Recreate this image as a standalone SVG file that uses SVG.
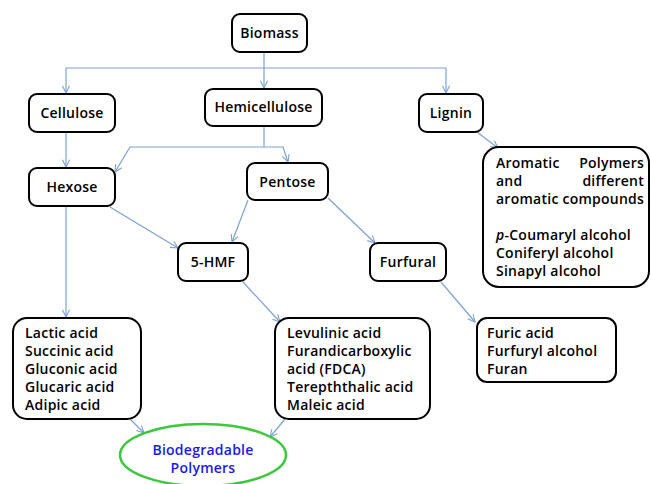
<svg xmlns="http://www.w3.org/2000/svg" width="651" height="484" viewBox="0 0 651 484">
<defs>
<marker id="arr" viewBox="0 0 10 10" refX="9" refY="5" markerWidth="9" markerHeight="9" markerUnits="userSpaceOnUse" orient="auto">
<path d="M1,1 L9,5 L1,9" fill="none" stroke="#7ba2d4" stroke-width="1.2"/>
</marker>
<style>
.box{fill:#fff;stroke:#000;stroke-width:2}
.t{font-family:"Open Sans","DejaVu Sans",sans-serif;font-weight:600;font-size:14px;letter-spacing:0.25px;fill:#000}
.c{text-anchor:middle}
.e{text-anchor:end}
.ln{fill:none;stroke:#7ba2d4;stroke-width:1.2}
.la{fill:none;stroke:#7ba2d4;stroke-width:1.2;marker-end:url(#arr)}
</style>
</defs>
<rect width="651" height="484" fill="#fff"/>
<g id="connectors">
<line class="ln" x1="264" y1="52" x2="264" y2="68"/>
<polyline class="la" points="264,68 66,68 66,93"/>
<line class="la" x1="264" y1="68" x2="264" y2="88"/>
<polyline class="la" points="264,68 446,68 446,93"/>
<line class="ln" x1="264" y1="126" x2="264" y2="147"/>
<polyline class="la" points="264,147 130,147 115,172"/>
<polyline class="la" points="264,147 283,147 288,162"/>
<line class="la" x1="66" y1="132" x2="66" y2="167"/>
<line class="la" x1="66" y1="206" x2="66" y2="317"/>
<line class="la" x1="110" y1="207" x2="178" y2="248"/>
<line class="la" x1="248" y1="200" x2="232" y2="242"/>
<line class="la" x1="328" y1="198" x2="375" y2="243"/>
<line class="la" x1="477" y1="132" x2="498" y2="148"/>
<line class="la" x1="243" y1="282" x2="280" y2="322"/>
<line class="la" x1="441" y1="282" x2="475" y2="322"/>
<line class="la" x1="130" y1="419" x2="144" y2="433"/>
<line class="la" x1="285" y1="419" x2="270" y2="437"/>
</g>
<g id="biomass"><rect class="box" x="232" y="14" width="75" height="38" rx="8"/><text class="t c" x="269.5" y="38">Biomass</text></g>
<g id="cellulose"><rect class="box" x="29" y="94" width="86" height="38" rx="8"/><text class="t c" x="72" y="118">Cellulose</text></g>
<g id="hemicellulose"><rect class="box" x="205" y="89" width="117" height="37" rx="8"/><text class="t c" x="263.5" y="112">Hemicellulose</text></g>
<g id="lignin"><rect class="box" x="419" y="94" width="64" height="38" rx="8"/><text class="t c" x="451" y="118">Lignin</text></g>
<g id="hexose"><rect class="box" x="29" y="168" width="86" height="38" rx="8"/><text class="t c" x="72" y="192">Hexose</text></g>
<g id="pentose"><rect class="box" x="247" y="163" width="81" height="37" rx="8"/><text class="t c" x="287.5" y="187">Pentose</text></g>
<g id="hmf"><rect class="box" x="178" y="243" width="70" height="38" rx="8"/><text class="t c" x="213" y="267">5-HMF</text></g>
<g id="furfural"><rect class="box" x="370" y="243" width="76" height="38" rx="8"/><text class="t c" x="408" y="267">Furfural</text></g>
<g id="aromatic"><rect class="box" x="483" y="147" width="166" height="140" rx="16"/>
<text class="t" x="496" y="168">Aromatic</text><text class="t e" x="644" y="168">Polymers</text>
<text class="t" x="496" y="186">and</text><text class="t e" x="644" y="186">different</text>
<text class="t" x="496" y="204">aromatic compounds</text>
<text class="t" x="496" y="240"><tspan font-style="italic">p</tspan>-Coumaryl alcohol</text>
<text class="t" x="496" y="258">Coniferyl alcohol</text>
<text class="t" x="496" y="276">Sinapyl alcohol</text>
</g>
<g id="acids1"><rect class="box" x="13" y="318" width="128" height="101" rx="14"/>
<text class="t" x="25" y="338">Lactic acid</text>
<text class="t" x="25" y="356">Succinic acid</text>
<text class="t" x="25" y="374">Gluconic acid</text>
<text class="t" x="25" y="392">Glucaric acid</text>
<text class="t" x="25" y="410">Adipic acid</text>
</g>
<g id="acids2"><rect class="box" x="275" y="318" width="155" height="101" rx="14"/>
<text class="t" x="287" y="338">Levulinic acid</text>
<text class="t" x="287" y="356">Furandicarboxylic</text>
<text class="t" x="287" y="374">acid (FDCA)</text>
<text class="t" x="287" y="392">Terepththalic acid</text>
<text class="t" x="287" y="410">Maleic acid</text>
</g>
<g id="furans"><rect class="box" x="477" y="318" width="139" height="64" rx="10"/>
<text class="t" x="487" y="338">Furic acid</text>
<text class="t" x="487" y="356">Furfuryl alcohol</text>
<text class="t" x="487" y="374">Furan</text>
</g>
<g id="polymers"><ellipse cx="203" cy="455" rx="83" ry="31" fill="#fff" stroke="#3cc83c" stroke-width="2.5"/>
<text class="t c" x="203" y="455" style="fill:#1a1af0">Biodegradable</text>
<text class="t c" x="203" y="473" style="fill:#1a1af0">Polymers</text>
</g>
</svg>
